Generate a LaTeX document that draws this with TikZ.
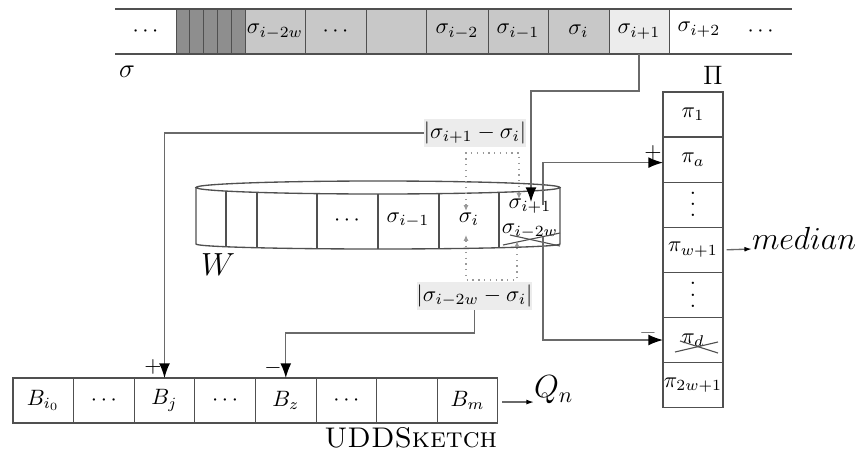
\documentclass[tikz,border=0pt]{standalone}
\usetikzlibrary{arrows.meta}
\definecolor{dk}{HTML}{8E8E8E}
\definecolor{md}{HTML}{C8C8C8}
\definecolor{lt}{HTML}{ECECEC}
\definecolor{ln}{HTML}{505050}
\definecolor{cn}{HTML}{6A6A6A}
\definecolor{dt}{HTML}{9A9A9A}
\newcommand{\myvdots}{\vbox{\baselineskip5pt\lineskiplimit0pt\hbox{.}\hbox{.}\hbox{.}}}
\begin{document}
\begin{tikzpicture}[x=0.45pt,y=-0.45pt,
  cw/.style={minimum width=#1*0.45pt},
  tcell/.style={inner sep=0pt,outer sep=0pt,minimum height=20.25pt},
  bcell/.style={draw=ln,line width=0.5pt,inner sep=0pt,outer sep=0pt,minimum width=27.27pt,minimum height=20.25pt},
  pcell/.style={draw=ln,line width=0.5pt,inner sep=0pt,outer sep=0pt,minimum width=27pt,minimum height=20.3pt},
  lbl/.style={inner sep=0pt,outer sep=0pt},
  gbox/.style={fill=lt,inner sep=0pt,outer sep=0pt,minimum height=12.6pt},
  conn/.style={draw=cn,line width=0.6pt},
  bigtip/.style={-{Latex[length=6.6pt,width=4.9pt,color=black]}},
  smalltip/.style={-{Latex[length=3.4pt,width=2.2pt,color=black]}},
  dots/.style={draw=dt,dotted,line width=0.6pt,{Latex[length=2.6pt,width=2.2pt,color=dt]}-{Latex[length=2.6pt,width=2.2pt,color=dt]}}
]
\useasboundingbox (0,0) rectangle (857,452);

% ---- top array sigma
\node[tcell,cw=61] (t0) at (145.5,31.5) {$\cdots$};
\node[tcell,cw=13,draw=ln,fill=dk] (d1) at (182.5,31.5) {};
\node[tcell,cw=14,draw=ln,fill=dk] (d2) at (196,31.5) {};
\node[tcell,cw=14,draw=ln,fill=dk] (d3) at (210,31.5) {};
\node[tcell,cw=14,draw=ln,fill=dk] (d4) at (224,31.5) {};
\node[tcell,cw=14,draw=ln,fill=dk] (d5) at (238,31.5) {};
\node[tcell,cw=60,draw=ln,fill=md] (t1) at (275,31.5) {$\sigma_{i-2w}$};
\node[tcell,cw=61,draw=ln,fill=md] (t2) at (335.5,31.5) {$\cdots$};
\node[tcell,cw=60,draw=ln,fill=md] (t3) at (396,31.5) {};
\node[tcell,cw=62,draw=ln,fill=md] (t4) at (457,31.5) {$\sigma_{i-2}$};
\node[tcell,cw=60,draw=ln,fill=md] (t5) at (518,31.5) {$\sigma_{i-1}$};
\node[tcell,cw=61,draw=ln,fill=md] (t6) at (578.5,31.5) {$\sigma_i$};
\node[tcell,cw=60,draw=ln,fill=lt] (t7) at (639,31.5) {$\sigma_{i+1}$};
\node[tcell,cw=60] (t8) at (699,29.5) {$\sigma_{i+2}$};
\node[tcell,cw=63] (t9) at (760.5,31.5) {$\cdots$};
\draw[ln,line width=0.5pt] (t0.north west) -- (t9.north east);
\draw[ln,line width=0.5pt] (t0.south west) -- (t9.south east);
\node[lbl] (sig) at (127,72) {\large$\sigma$};

% ---- Pi column
\node[lbl] (Pi) at (713,75) {\large$\Pi$};
\node[pcell] (p1) at (693,114.5) {$\pi_1$};
\node[pcell] (pa) at (693,159.6) {$\pi_a$};
\node[pcell] (pv1) at (693,204.7) {\myvdots};
\node[pcell] (pw) at (693,249.8) {$\pi_{w+1}$};
\node[pcell] (pv2) at (693,294.9) {\myvdots};
\node[pcell] (pd) at (693,340) {$\pi_d$};
\node[pcell] (p2w) at (693,385.1) {$\pi_{2w+1}$};
\draw[ln,line width=0.5pt] (675,352) -- (718,342);
\draw[ln,line width=0.5pt] (680,341) -- (718,353);
\node[lbl,anchor=base west] (med) at (752,249) {\fontsize{14}{16}\selectfont$median$};
\draw[conn,smalltip] ([xshift=1.6pt]pw.east) -- (med.base west);

% ---- cylinder W
\draw[ln,line width=0.6pt] (378,187.5) ellipse [x radius=182, y radius=6.5];
\draw[ln,line width=0.6pt] (196,187.5) -- (196,244) arc[start angle=180,end angle=0,x radius=182,y radius=5] -- (560,187.5);
\draw[ln,line width=0.5pt] (226,191.1) -- (226,246.8);
\draw[ln,line width=0.5pt] (257,192.4) -- (257,247.7);
\draw[ln,line width=0.5pt] (317,193.6) -- (317,248.7);
\draw[ln,line width=0.5pt] (378,194) -- (378,249);
\draw[ln,line width=0.5pt] (439,193.6) -- (439,248.7);
\draw[ln,line width=0.5pt] (499,192.4) -- (499,247.7);
\node[lbl] (wd) at (347,221) {$\cdots$};
\node[lbl] (wim1) at (408,220) {$\sigma_{i-1}$};
\node[lbl] (wi) at (469,219) {$\sigma_i$};
\node[lbl] (wip1) at (530,206) {$\sigma_{i+1}$};
\node[lbl] (wi2w) at (530,231) {$\sigma_{i-2w}$};
\draw[ln,line width=0.5pt] (503,245) -- (560,233);
\draw[ln,line width=0.5pt] (510,235) -- (560,246);
\node[lbl] (W) at (218,265) {\Large$W$};

% ---- difference boxes
\node[gbox,minimum width=40.5pt] (box1) at (475,133) {$|\sigma_{i+1}-\sigma_i|$};
\node[gbox,minimum width=42.7pt] (box2) at (474.5,296) {$|\sigma_{i-2w}-\sigma_i|$};
\draw[dots] (466,211) |- (519,153) -- (519,199);
\draw[dots] (466,235) |- (517,280) -- (517,241);

% ---- UDDSketch buckets
\node[bcell] (b0) at (43.3,400.5) {$B_{i_0}$};
\node[bcell] (b1) at (103.9,400.5) {$\cdots$};
\node[bcell] (bj) at (164.5,400.5) {$B_j$};
\node[bcell] (b3) at (225.1,400.5) {$\cdots$};
\node[bcell] (bz) at (285.8,400.5) {$B_z$};
\node[bcell] (b5) at (346.4,400.5) {$\cdots$};
\node[bcell] (b6) at (407,400.5) {};
\node[bcell] (bm) at (467.6,400.5) {$B_m$};
\node[lbl,anchor=east] (udd) at (497,438) {\fontsize{12.8}{15}\selectfont\textsc{UDDSketch}};
\node[lbl,anchor=west] (Qn) at (534,390) {\Large$Q_n$};
\draw[conn,smalltip] ([xshift=2pt,yshift=-0.7pt]bm.east) -- ([yshift=-0.7pt]bm.east -| Qn.west);

% ---- connectors
\coordinate (tipA) at (531,202);
\draw[conn,bigtip] (t7.south) -- ++(0,37) -| (tipA);
\coordinate (sA) at (543,205);
\draw[conn,bigtip] (sA) |- ([yshift=-1.35pt]pa.west);
\node[lbl] (plusA) at (653,153) {$+$};
\coordinate (sD) at (543,237);
\draw[conn,bigtip] (sD) |- (pd.west);
\node[lbl,text=cn] (minD) at (648,333) {$-$};
\draw[conn,bigtip] (box1.west) -| (bj.north);
\node[lbl] (plusJ) at (153,367) {$+$};
\draw[conn,bigtip] (box2.south) -- ++(0,23) -| (bz.north);
\node[lbl] (minZ) at (273,368) {$-$};
\end{tikzpicture}
\end{document}
